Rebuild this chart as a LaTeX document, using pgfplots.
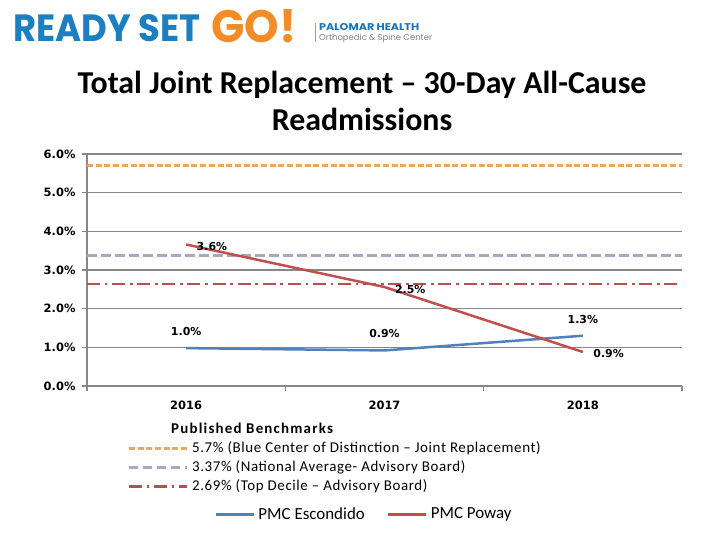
\documentclass[border=0pt]{standalone}
\usepackage{fontspec}
\usepackage{pgfplots}
\pgfplotsset{compat=1.18}
\setmainfont{Carlito}
\newfontfamily\dejavu{DejaVu Sans}
\newfontfamily\popfont{Poppins}
\newfontfamily\legfont{Carlito}[LetterSpace=4]
\definecolor{escblue}{HTML}{4F81BD}
\definecolor{powred}{HTML}{C0504D}
\definecolor{bmorange}{HTML}{EDA660}
\definecolor{bmpurple}{HTML}{A9A6C6}
\definecolor{bmred}{HTML}{B5504E}
\definecolor{gridgray}{HTML}{878787}
\definecolor{readyblue}{HTML}{1B7FC0}
\definecolor{goorange}{HTML}{F28C28}
\definecolor{palblue}{HTML}{1A75B5}
\begin{document}
\begin{tikzpicture}
\useasboundingbox (0,0) rectangle (720bp,-540bp);
\fill[white] (0,0) rectangle (720bp,-540bp);
% header
\node[anchor=south west, inner sep=0pt, text=readyblue] at (13bp,-42bp) {\resizebox{187bp}{27bp}{\popfont\bfseries READY SET}};
\node[anchor=south west, inner sep=0pt, text=goorange] at (211bp,-43bp) {\resizebox{85bp}{33bp}{\popfont\bfseries GO!}};
\fill[goorange] (314.5bp,-23bp) rectangle (316.3bp,-42bp);
\node[anchor=south west, inner sep=0pt, text=palblue] at (319bp,-31bp) {\resizebox{100bp}{7bp}{\popfont\bfseries PALOMAR HEALTH}};
\node[anchor=base west, inner sep=0pt, text=gray] at (319bp,-40.5bp) {\resizebox{113bp}{!}{\popfont Orthopedic \& Spine Center}};
% title
\node[anchor=base, inner sep=0pt, font=\bfseries\fontsize{32}{38}\selectfont] at (362bp,-93bp) {Total Joint Replacement – 30-Day All-Cause};
\node[anchor=base, inner sep=0pt, font=\bfseries\fontsize{32}{38}\selectfont] at (362bp,-130bp) {Readmissions};
\begin{axis}[
  at={(87bp,-386bp)}, anchor=south west,
  scale only axis, width=595bp, height=232bp,
  xmin=-0.5, xmax=2.5, ymin=0, ymax=6,
  axis lines=left, axis line style={gridgray, line width=1.5bp, -},
  xtick={0,1,2}, xticklabels={2016,2017,2018},
  major x tick style={draw=none},
  minor xtick={-0.5,0.5,1.5,2.5},
  ytick={0,1,2,3,4,5,6},
  yticklabels={0.0\%,1.0\%,2.0\%,3.0\%,4.0\%,5.0\%,6.0\%},
  ymajorgrids, grid style={gridgray, line width=1.5bp},
  tick align=outside, major tick length=5bp, minor tick length=5bp,
  tick style={gridgray, line width=1.2bp},
  tick label style={font=\dejavu\bfseries\fontsize{11.5}{13}\selectfont},
  xticklabel style={yshift=-6bp},
  yticklabel style={anchor=east, xshift=-3bp},
  legend image code/.code={\draw[#1] (0bp,0bp) -- (58bp,0bp);},
  legend cell align=left,
  legend style={at={(axis description cs:0.063,-0.142)}, anchor=north west, draw=none, fill=none,
    font=\legfont\fontsize{15}{17}\selectfont,
    nodes={inner sep=1bp, text height=11bp, text depth=3.5bp}, row sep=2.5bp,
    /tikz/every odd column/.append style={column sep=3bp}},
]
\addlegendimage{empty legend}
\addlegendentry{\hspace*{-21bp}\bfseries\addfontfeature{LetterSpace=8}Published Benchmarks}
\addplot[bmorange, line width=2.5bp, dash pattern=on 6bp off 2.7bp] coordinates {(-0.5,5.7) (2.5,5.7)};
\addlegendentry{5.7\% (Blue Center of Distinction – Joint Replacement)}
\addplot[bmpurple, line width=2.5bp, dash pattern=on 9.5bp off 4.5bp] coordinates {(-0.5,3.37) (2.5,3.37)};
\addlegendentry{3.37\% (National Average- Advisory Board)}
\addplot[bmred, line width=2.5bp, dash pattern=on 13bp off 4.7bp on 2.7bp off 4.7bp] coordinates {(-0.5,2.64) (2.5,2.64)};
\addlegendentry{2.69\% (Top Decile – Advisory Board)}
\addplot[escblue, line width=2.5bp, forget plot, point meta=explicit symbolic, nodes near coords,
  every node near coord/.append style={anchor=south, yshift=8bp, text=black, font=\dejavu\bfseries\fontsize{11}{13}\selectfont}]
  coordinates {(0,0.98) [1.0\%] (1,0.92) [0.9\%] (2,1.3) [1.3\%]};
\addplot[powred, line width=2.5bp, forget plot, point meta=explicit symbolic, nodes near coords,
  every node near coord/.append style={anchor=west, xshift=6bp, yshift=-2bp, text=black, font=\dejavu\bfseries\fontsize{11}{13}\selectfont}]
  coordinates {(0,3.66) [3.6\%] (1,2.56) [2.5\%] (2,0.88) [0.9\%]};
\end{axis}
\begin{axis}[
  at={(364bp,-514bp)}, anchor=center, hide axis, scale only axis,
  width=10bp, height=10bp, xmin=0, xmax=1, ymin=0, ymax=1,
  legend columns=2,
  legend image code/.code={\draw[#1] (0bp,0bp) -- (38bp,0bp);},
  legend style={at={(0.5,0.5)}, anchor=center, draw=none, fill=none,
    font=\fontsize{17}{19}\selectfont,
    /tikz/every odd column/.append style={column sep=1bp},
    /tikz/every even column/.append style={column sep=20bp}},
]
\addlegendimage{escblue, line width=3bp}
\addlegendentry{PMC Escondido}
\addlegendimage{powred, line width=3bp}
\addlegendentry{PMC Poway}
\end{axis}
\end{tikzpicture}
\end{document}
